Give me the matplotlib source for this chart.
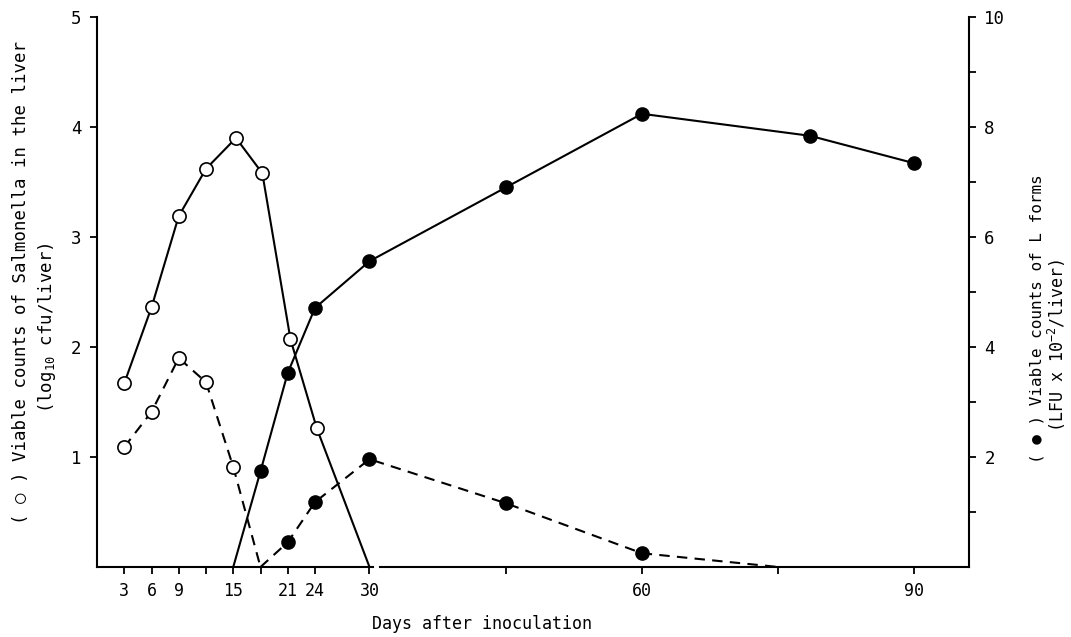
import matplotlib
matplotlib.use('Agg')
import matplotlib.pyplot as plt

plt.rcParams['font.family'] = ['DejaVu Sans Mono', 'DejaVu Sans']
plt.rcParams['mathtext.fontset'] = 'custom'
plt.rcParams['mathtext.rm'] = 'DejaVu Sans Mono'

# Salmonella (left axis, log10 cfu/liver), open circles
sal_days_solid = [3, 6, 9, 12, 15.3, 18.2, 21.3, 24.2, 30]
sal_solid = [1.67, 2.36, 3.19, 3.62, 3.90, 3.58, 2.07, 1.26, 0]
sal_days_dash = [3, 6, 9, 12, 15, 18]
sal_dash = [1.09, 1.41, 1.90, 1.68, 0.91, 0]

# L forms (right axis, LFU x 10^-2/liver), filled circles
lf_days_solid = [15, 18, 21, 24, 30, 45, 60, 78.5, 90]
lf_solid = [0, 1.74, 3.53, 4.71, 5.56, 6.90, 8.24, 7.84, 7.34]
lf_days_dash = [18, 21, 24, 30, 45, 60, 75]
lf_dash = [0, 0.45, 1.18, 1.96, 1.16, 0.25, 0]

xticks = [3, 6, 9, 12, 15, 18, 21, 24, 30, 45, 60, 75, 90]
xticklabels = ['3', '6', '9', '', '15', '', '21', '24', '30', '', '60', '', '90']

fig = plt.figure(figsize=(10.71, 6.37), dpi=100)
ax = fig.add_axes([97/1071, 70/637, 872/1071, 550/637])
ax2 = ax.twinx()

lw = 1.5
dash = (5, 3.5)
ms = 9.5

# open circles - Salmonella
ax.plot(sal_days_solid, sal_solid, color='black', lw=lw, marker='o', ms=ms,
        mfc='white', mec='black', mew=1.2, markevery=slice(0, -1), zorder=3)
ax.plot(sal_days_dash, sal_dash, color='black', lw=lw, dashes=dash, marker='o', ms=ms,
        mfc='white', mec='black', mew=1.2, markevery=slice(0, -1), zorder=3)

# filled circles - L forms
ax2.plot(lf_days_solid, lf_solid, color='black', lw=lw, marker='o', ms=ms,
         mfc='black', mec='black', markevery=slice(1, None), zorder=3)
ax2.plot(lf_days_dash, lf_dash, color='black', lw=lw, dashes=dash, marker='o', ms=ms,
         mfc='black', mec='black', markevery=slice(1, -1), zorder=3)

ax.set_xlim(0, 96)
ax.set_ylim(0, 5)
ax2.set_ylim(0, 10)

ax.set_xticks(xticks)
ax.set_xticklabels(xticklabels, fontsize=12)
ax.set_yticks([1, 2, 3, 4, 5])
ax.set_yticklabels(['1', '2', '3', '4', '5'], fontsize=12.5)
ax2.set_yticks(range(1, 11))
ax2.set_yticklabels(['', '2', '', '4', '', '6', '', '8', '', '10'], fontsize=12.5)

ax.tick_params(axis='both', direction='out', length=5, width=1.3, pad=6)
ax2.tick_params(axis='y', direction='out', length=5, width=1.3, pad=6)

for a in (ax, ax2):
    a.spines['top'].set_visible(False)
    a.spines['bottom'].set_visible(False)
ax.spines['right'].set_visible(False)
ax2.spines['left'].set_visible(False)
ax.spines['left'].set_linewidth(1.5)
ax2.spines['right'].set_linewidth(1.5)

# broken x axis after day 30
xt = ax.get_xaxis_transform()
ax.plot([0, 30.4], [0, 0], color='black', lw=1.5, transform=xt, clip_on=False)
ax.plot([31.2, 96], [0, 0], color='black', lw=1.5, transform=xt, clip_on=False)

fig.text(482/1071, 1 - 624/637, 'Days after inoculation', fontsize=12,
         ha='center', va='center')

fig.text(21/1071, 1 - 282/637, '( \u25cb ) Viable counts of Salmonella in the liver',
         fontsize=12.5, rotation=90, ha='center', va='center')
fig.text(47/1071, 1 - 328/637, '(log$_{10}$ cfu/liver)',
         fontsize=12.5, rotation=90, ha='center', va='center')

fig.text(1037/1071, 1 - 319/637, '( \u25cf ) Viable counts of L forms',
         fontsize=11.5, rotation=90, ha='center', va='center')
fig.text(1057/1071, 1 - 345/637, '(LFU x 10$^{-2}$/liver)',
         fontsize=12, rotation=90, ha='center', va='center')

fig.savefig('out.png', dpi=100, facecolor='white')
